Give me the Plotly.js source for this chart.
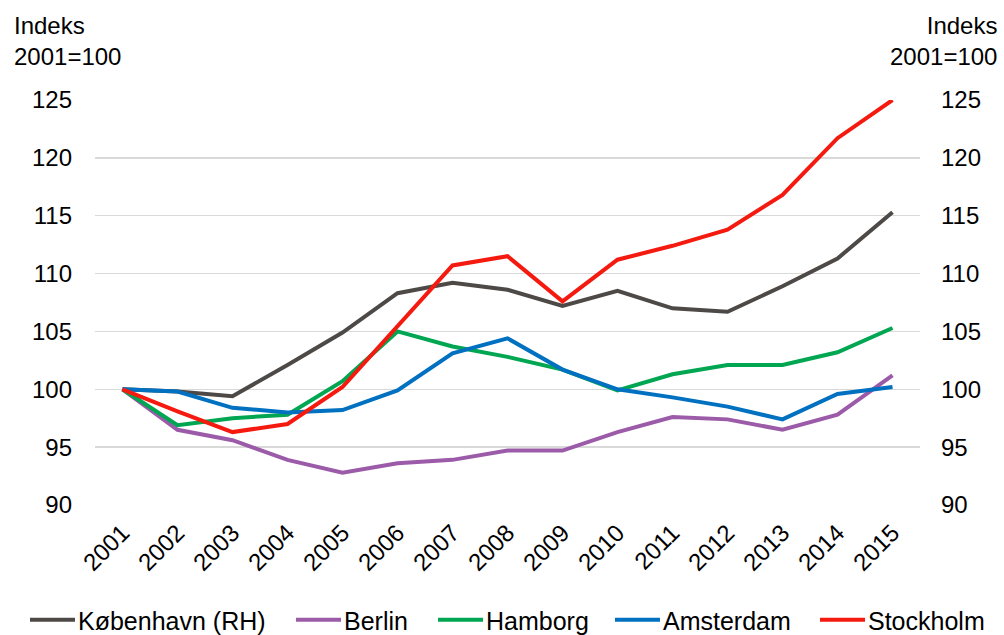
<!DOCTYPE html>
<html>
<head>
<meta charset="utf-8">
<script src="https://cdn.plot.ly/plotly-3.0.1.min.js"></script>
<style>html,body{margin:0;padding:0;background:#fff;}#chart{width:1004px;height:635px;}</style>
</head>
<body>
<div id="chart"></div>
<script>
const years = ['2001','2002','2003','2004','2005','2006','2007','2008','2009','2010','2011','2012','2013','2014','2015'];
const kobenhavn = [100, 99.8, 99.4, 102.1, 104.9, 108.3, 109.2, 108.6, 107.2, 108.5, 107.0, 106.7, 108.9, 111.3, 115.3];
const berlin    = [100, 96.5, 95.6, 93.9, 92.8, 93.6, 93.9, 94.7, 94.7, 96.3, 97.6, 97.4, 96.5, 97.8, 101.2];
const hamborg   = [100, 96.9, 97.5, 97.8, 100.7, 105.0, 103.7, 102.8, 101.7, 99.9, 101.3, 102.1, 102.1, 103.2, 105.3];
const amsterdam = [100, 99.8, 98.4, 98.0, 98.2, 99.9, 103.1, 104.4, 101.7, 100.0, 99.3, 98.5, 97.4, 99.6, 100.2];
const stockholm = [100, 98.1, 96.3, 97.0, 100.2, 105.4, 110.7, 111.5, 107.6, 111.2, 112.4, 113.8, 116.8, 121.7, 125.0];
const yTicks = [90, 95, 100, 105, 110, 115, 120, 125];
const names = ['København (RH)', 'Berlin', 'Hamborg', 'Amsterdam', 'Stockholm'];
const colors = ['#4D4946', '#9B5BA8', '#00A651', '#0070C0', '#F51A0F'];
const values = [kobenhavn, berlin, hamborg, amsterdam, stockholm];
// legend entry line-start positions (px)
const legendX = [30, 296, 438, 615, 820];

const FONT = 'Liberation Sans, Arial, sans-serif';
const legendIds = ['legend', 'legend2', 'legend3', 'legend4', 'legend5'];
const traces = names.map((n, i) => ({
  x: years, y: values[i], name: n, type: 'scatter', mode: 'lines',
  line: {color: colors[i], width: 4}, legend: legendIds[i]
}));
traces.push({x: years, y: stockholm, yaxis: 'y2', type: 'scatter', mode: 'lines',
  line: {width: 0, color: 'rgba(0,0,0,0)'}, showlegend: false, hoverinfo: 'skip'});

const layout = {
  width: 1004, height: 635,
  margin: {l: 95, r: 84, t: 100, b: 130},
  paper_bgcolor: '#fff', plot_bgcolor: '#fff',
  font: {family: FONT, size: 24, color: '#000'},
  showlegend: true,
  xaxis: {type: 'category', range: [-0.5, 14.5], tickangle: -45, showgrid: false, zeroline: false,
          showline: false, ticks: '', automargin: false, ticklabelstandoff: 8,
          tickfont: {family: FONT, size: 24, color: '#000'}},
  yaxis: {range: [90, 125], tickvals: yTicks, ticktext: yTicks.map(String), showgrid: true,
          gridcolor: '#D9D9D9', gridwidth: 1.5, zeroline: false, showline: false, ticks: '',
          automargin: false, ticklabelstandoff: 22, tickfont: {family: FONT, size: 24, color: '#000'}},
  yaxis2: {range: [90, 125], tickvals: yTicks, ticktext: yTicks.map(String), overlaying: 'y', side: 'right',
           showgrid: false, zeroline: false, showline: false, ticks: '', automargin: false,
           ticklabelstandoff: 20, tickfont: {family: FONT, size: 24, color: '#000'}},
  annotations: [
    {text: 'Indeks<br>2001=100', xref: 'paper', yref: 'paper', x: -0.1006, y: 1.222,
     xanchor: 'left', yanchor: 'top', align: 'left', showarrow: false,
     font: {family: FONT, size: 24, color: '#000'}},
    {text: 'Indeks<br>2001=100', xref: 'paper', yref: 'paper', x: 1.0958, y: 1.222,
     xanchor: 'right', yanchor: 'top', align: 'right', showarrow: false,
     font: {family: FONT, size: 24, color: '#000'}}
  ]
};
legendIds.forEach((id, i) => {
  layout[id] = {orientation: 'h', xref: 'container', yref: 'container', itemwidth: 43,
    x: (legendX[i] - 5) / 1004, xanchor: 'left', y: (635 - 620) / 635, yanchor: 'middle',
    bgcolor: 'rgba(0,0,0,0)', font: {family: FONT, size: 25, color: '#000'}};
});
Plotly.newPlot('chart', traces, layout, {displayModeBar: false, staticPlot: true}).then(gd => {
  // lengthen legend line samples to match the reference (45px)
  gd.querySelectorAll('.legendlines path').forEach(p => p.setAttribute('d', 'M5,0h45'));
});
</script>
</body>
</html>
